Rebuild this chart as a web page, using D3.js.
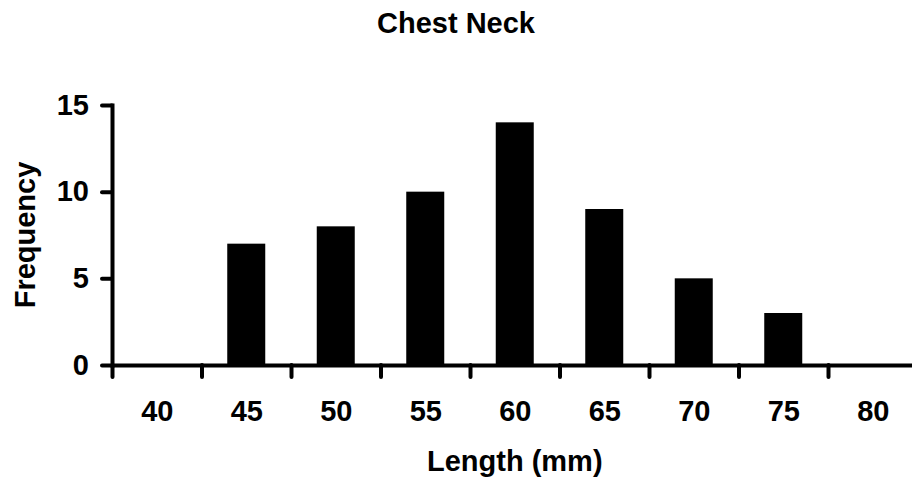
<!DOCTYPE html>
<html>
<head>
<meta charset="utf-8">
<script src="https://cdn.jsdelivr.net/npm/d3@7/dist/d3.min.js"></script>
<style>
  html, body { margin: 0; padding: 0; background: #fff; }
  svg { display: block; }
  text { font-family: "Liberation Sans", Arial, sans-serif; font-weight: bold; fill: #000; }
</style>
</head>
<body>
<svg id="chart" width="912" height="481"></svg>
<script>
// Length classes (mm) and their counts
const lengths = [40, 45, 50, 55, 60, 65, 70, 75, 80];
const frequency = [0, 7, 8, 10, 14, 9, 5, 3, 0];
// Class boundaries carry the x tick marks
const classEdges = [37.5, 42.5, 47.5, 52.5, 57.5, 62.5, 67.5, 72.5, 77.5];
const yTicks = [0, 5, 10, 15];
const titleText = "Chest Neck";
const xTitle = "Length (mm)";
const yTitle = "Frequency";

(function () {
const svg = d3.select("#chart");
const plotLeft = 112, plotRight = 917.5, plotTop = 105, plotBottom = 365;
const fontSize = 29;
const fontFamily = '"Liberation Sans", Arial, sans-serif';

const x = d3.scaleLinear().domain([37.5, 82.5]).range([plotLeft, plotRight]);
const y = d3.scaleLinear().domain([0, 15]).range([plotBottom, plotTop]);
const barWidth = 38;

// bars
svg.append("g")
  .selectAll("rect")
  .data(lengths.map((l, i) => ({ l, v: frequency[i] })).filter(d => d.v > 0))
  .join("rect")
  .attr("x", d => x(d.l) - barWidth / 2)
  .attr("y", d => y(d.v))
  .attr("width", barWidth)
  .attr("height", d => y(0) - y(d.v))
  .attr("fill", "#000");

// x axis: tick marks at class edges
const xAxisTicks = svg.append("g")
  .attr("transform", `translate(0,${plotBottom})`)
  .call(d3.axisBottom(x).tickValues(classEdges).tickSize(12).tickSizeOuter(0).tickFormat(""));
xAxisTicks.select(".domain").attr("stroke-width", 4).attr("stroke", "#000");
xAxisTicks.selectAll(".tick line").attr("stroke-width", 4).attr("stroke-linecap", "round").attr("stroke", "#000");

// x axis: class labels
const xAxisLabels = svg.append("g")
  .attr("transform", `translate(0,${plotBottom})`)
  .call(d3.axisBottom(x).tickValues(lengths).tickSize(0).tickPadding(35).tickFormat(d3.format("d")));
xAxisLabels.select(".domain").remove();
xAxisLabels.selectAll("text").style("font-size", fontSize + "px").style("font-family", fontFamily).style("font-weight", "bold").attr("fill", "#000");

// y axis
const yAxis = svg.append("g")
  .attr("transform", `translate(${plotLeft},0)`)
  .call(d3.axisLeft(y).tickValues(yTicks).tickSize(10).tickPadding(13).tickSizeOuter(0));
yAxis.select(".domain").attr("stroke-width", 4).attr("stroke", "#000").attr("stroke-linecap", "square");
yAxis.selectAll(".tick line").attr("stroke-width", 4).attr("stroke-linecap", "round").attr("stroke", "#000");
yAxis.selectAll("text").style("font-size", fontSize + "px").style("font-family", fontFamily).style("font-weight", "bold").attr("fill", "#000");

// titles
svg.append("text")
  .attr("x", 456).attr("y", 33)
  .attr("text-anchor", "middle")
  .style("font-size", fontSize + "px")
  .text(titleText);

svg.append("text")
  .attr("x", (plotLeft + plotRight) / 2).attr("y", 471)
  .attr("text-anchor", "middle")
  .style("font-size", fontSize + "px")
  .text(xTitle);

svg.append("text")
  .attr("transform", `translate(35,${(plotTop + plotBottom) / 2}) rotate(-90)`)
  .attr("text-anchor", "middle")
  .style("font-size", fontSize + "px")
  .text(yTitle);
})();
</script>
</body>
</html>
